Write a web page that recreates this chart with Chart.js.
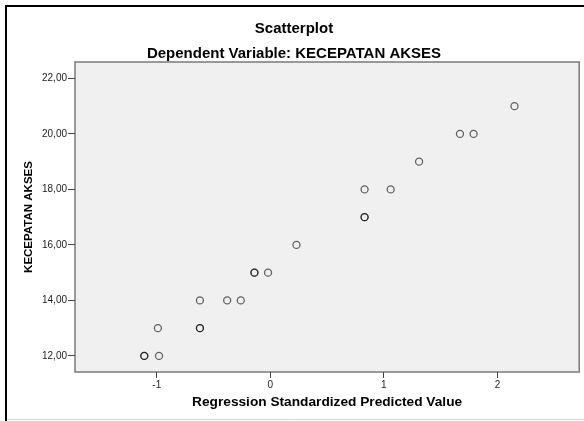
<!DOCTYPE html>
<html>
<head>
<meta charset="utf-8">
<script src="https://cdn.jsdelivr.net/npm/chart.js@4"></script>
<style>
  html, body { margin: 0; padding: 0; background: #fff; }
  #wrap { width: 584px; height: 421px; }
</style>
</head>
<body>
<div id="wrap"><canvas id="scatterChart" width="584" height="421"></canvas></div>
<script>
// standardized predicted value (x) vs KECEPATAN AKSES (y); repeated pairs are overlapping cases
const predicted = [-1.11, -1.11, -0.98, -0.99, -0.62, -0.62, -0.62, -0.38, -0.26, -0.14, -0.14, -0.02, 0.23, 0.83, 0.83, 0.83, 1.06, 1.31, 1.67, 1.79, 2.15];
const kecepatan = [12, 12, 12, 13, 13, 13, 14, 14, 14, 15, 15, 15, 16, 17, 17, 18, 18, 19, 20, 20, 21];
const xRange = [-1.72, 2.72];
const yRange = [11.42, 22.59];

const titleText = "Scatterplot";
const subtitleText = "Dependent Variable: KECEPATAN AKSES";
const xTitle = "Regression Standardized Predicted Value";
const yTitle = "KECEPATAN AKSES";

const points = predicted.map((x, i) => ({ x: x, y: kecepatan[i] }));

const frame = {
    id: "frame",
    beforeDraw(chart) {
        const ctx = chart.ctx;
        const a = chart.chartArea;
        ctx.save();
        ctx.fillStyle = "#fff";
        ctx.fillRect(0, 0, chart.width, chart.height);
        // outer frame
        ctx.strokeStyle = "#000";
        ctx.lineWidth = 2;
        ctx.beginPath();
        ctx.moveTo(6, chart.height);
        ctx.lineTo(6, 6);
        ctx.lineTo(chart.width, 6);
        ctx.stroke();
        ctx.strokeStyle = "#d8d8d8";
        ctx.lineWidth = 1;
        ctx.beginPath();
        ctx.moveTo(7, 419.5);
        ctx.lineTo(chart.width, 419.5);
        ctx.stroke();
        // plot area
        ctx.fillStyle = "#f0f0f0";
        ctx.fillRect(a.left, a.top, a.right - a.left, a.bottom - a.top);
        ctx.strokeStyle = "#7a7a7a";
        ctx.lineWidth = 1.5;
        ctx.strokeRect(a.left, a.top, a.right - a.left, a.bottom - a.top);
        ctx.restore();
    },
};

new Chart(document.getElementById("scatterChart"), {
    type: "scatter",
    data: {
        datasets: [
            {
                data: points,
                pointRadius: 3.5,
                pointHoverRadius: 3.5,
                borderWidth: 1.3,
                borderColor: "rgba(0, 0, 0, 0.6)",
                backgroundColor: "rgba(0, 0, 0, 0)",
            },
        ],
    },
    options: {
        responsive: false,
        animation: false,
        layout: {
            padding: { left: 8, right: 4, top: 0, bottom: 4 },
        },
        plugins: {
            legend: { display: false },
            tooltip: { enabled: false },
            title: {
                display: true,
                text: titleText,
                color: "#000",
                font: { family: "Arial, 'Liberation Sans'", size: 15, weight: "bold", lineHeight: 1.2 },
                padding: { top: 20, bottom: 8.5 },
            },
            subtitle: {
                display: true,
                text: subtitleText,
                color: "#000",
                font: { family: "Arial, 'Liberation Sans'", size: 15, weight: "bold", lineHeight: 1 },
                padding: { top: 0, bottom: 0.5 },
            },
        },
        scales: {
            x: {
                type: "linear",
                min: xRange[0],
                max: xRange[1],
                afterFit: (s) => { s.height = 45; },
                border: { display: false },
                grid: { drawOnChartArea: false, drawTicks: true, tickLength: 6, color: "#444" },
                ticks: {
                    stepSize: 1,
                    includeBounds: false,
                    padding: 1,
                    color: "#222",
                    font: { family: "Arial, 'Liberation Sans'", size: 10 },
                },
                title: {
                    display: true,
                    text: xTitle,
                    color: "#000",
                    font: { family: "Arial, 'Liberation Sans'", size: 13.7, weight: "bold" },
                    padding: { top: 0, bottom: 7 },
                },
            },
            y: {
                type: "linear",
                min: yRange[0],
                max: yRange[1],
                afterFit: (s) => { s.width = 67; },
                border: { display: false },
                grid: { drawOnChartArea: false, drawTicks: true, tickLength: 7, color: "#444" },
                ticks: {
                    stepSize: 2,
                    includeBounds: false,
                    padding: 1,
                    color: "#222",
                    font: { family: "Arial, 'Liberation Sans'", size: 10 },
                    callback: (v) => v.toFixed(2).replace(".", ","),
                },
                title: {
                    display: true,
                    text: yTitle,
                    color: "#000",
                    font: { family: "Arial, 'Liberation Sans'", size: 11.5, weight: "bold" },
                    padding: { top: 14, bottom: 0 },
                },
            },
        },
    },
    plugins: [frame],
});
</script>
</body>
</html>
